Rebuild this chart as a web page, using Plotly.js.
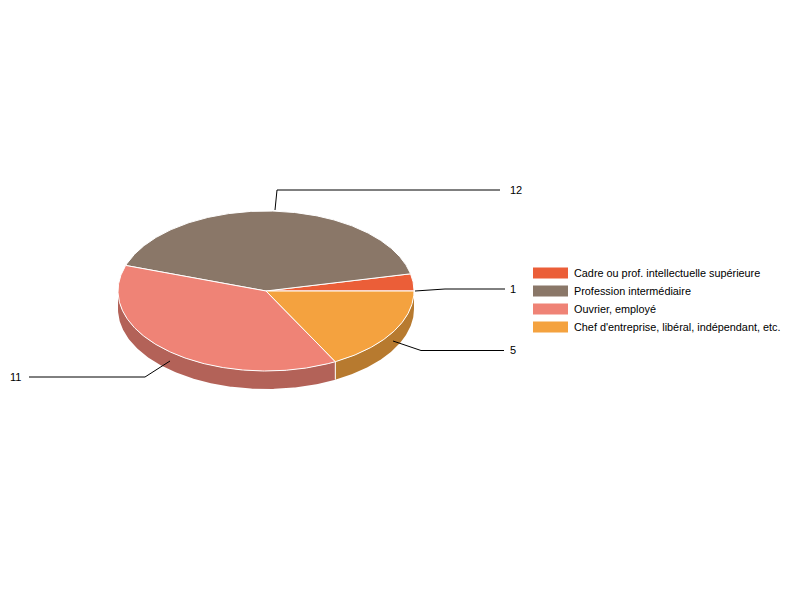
<!DOCTYPE html>
<html><head><meta charset="utf-8">
<script src="https://cdn.plot.ly/plotly-3.0.1.min.js"></script>
<style>html,body{margin:0;padding:0;background:#fff}</style></head>
<body><div id="chart" style="width:800px;height:600px"></div>
<script>
const categories = ["Cadre ou prof. intellectuelle supérieure","Profession intermédiaire","Ouvrier, employé","Chef d'entreprise, libéral, indépendant, etc."];
const values = [1,12,11,5];
const topColors = ["#EB5E38","#8A7768","#EF8376","#F4A23F"];
const sideColors = ["#B04629","#67594E","#B36258","#B77A2F"];
// leader line elbows and ends, per slice: [startX,startY,elbowX,elbowY,endX,endY]
const leaders = [[415,291,445,289,505,289],[275,210,277,190,500,190],[170,361,145,377,29,377],[393,341,421,350.5,504,350.5]];
const labelX = [510,510,21,510];
const labelY = [289,190,377,350];
const cx=266, cy=291, rx=148, ry=80, depth=18;
const total = values.reduce((a,b)=>a+b,0);
const font = {family:"Liberation Sans, Arial, sans-serif", size:11, color:"#000"};
const legendFont = {family:"Liberation Sans, Arial, sans-serif", size:10.85, color:"#000"};
const traces=[], annotations=[], shapes=[];
const pt=a=>[cx+rx*Math.cos(a), cy-ry*Math.sin(a)];
let spans=[], acc=0;
values.forEach(v=>{const s=acc/total*2*Math.PI; acc+=v; spans.push([s,acc/total*2*Math.PI]);});
const arc=(s,e)=>{const n=Math.max(8,Math.ceil((e-s)/0.01)),out=[];for(let i=0;i<=n;i++)out.push(pt(s+(e-s)*i/n));return out;};
// side walls: only the front half (angles from PI to 2PI) is visible
spans.forEach((sp,i)=>{
  const s=Math.max(sp[0],Math.PI), e=Math.min(sp[1],2*Math.PI);
  if(e<=s) return;
  const a=arc(s,e);
  const xs=a.map(p=>p[0]).concat(a.slice().reverse().map(p=>p[0]));
  const ys=a.map(p=>p[1]).concat(a.slice().reverse().map(p=>p[1]+depth));
  traces.push({type:"scatter",mode:"lines",x:xs.concat(xs[0]),y:ys.concat(ys[0]),fill:"toself",fillcolor:sideColors[i],line:{width:0,color:sideColors[i]},showlegend:false,hoverinfo:"skip"});
  if(sp[0]>Math.PI){const p=pt(sp[0]);traces.push({type:"scatter",mode:"lines",x:[p[0],p[0]],y:[p[1],p[1]+depth],line:{width:1,color:"#fff"},showlegend:false,hoverinfo:"skip"});}
});
// top faces
spans.forEach((sp,i)=>{
  const a=arc(sp[0],sp[1]);
  traces.push({type:"scatter",mode:"lines",x:[cx].concat(a.map(p=>p[0]),[cx]),y:[cy].concat(a.map(p=>p[1]),[cy]),fill:"toself",fillcolor:topColors[i],line:{width:1,color:"#fff"},showlegend:false,name:categories[i],text:String(values[i]),hoverinfo:"name+text"});
});
// leader lines and value labels
leaders.forEach((l,i)=>{
  traces.push({type:"scatter",mode:"lines",x:[l[0],l[2],l[4]],y:[l[1],l[3],l[5]],line:{width:1,color:"#000"},showlegend:false,hoverinfo:"skip"});
  annotations.push({x:labelX[i],y:labelY[i],xref:"x",yref:"y",text:String(values[i]),showarrow:false,font:font,xanchor:i===2?"right":"left",yanchor:"middle",borderpad:0,borderwidth:0});
});
// legend: swatch and label per category
categories.forEach((c,i)=>{
  const y=273+18*i;
  shapes.push({type:"rect",xref:"x",yref:"y",x0:533,x1:568,y0:y-5.5,y1:y+5.5,fillcolor:topColors[i],line:{width:0}});
  annotations.push({x:574,y:y,xref:"x",yref:"y",text:c,showarrow:false,font:legendFont,xanchor:"left",yanchor:"middle",borderpad:0,borderwidth:0});
});
Plotly.newPlot("chart",traces,{
  width:800,height:600,margin:{l:0,r:0,t:0,b:0},paper_bgcolor:"#fff",plot_bgcolor:"#fff",font:font,
  xaxis:{range:[0,800],visible:false,fixedrange:true},
  yaxis:{range:[600,0],visible:false,fixedrange:true},
  showlegend:false,
  annotations:annotations,shapes:shapes
},{displayModeBar:false,staticPlot:true});
</script></body></html>
